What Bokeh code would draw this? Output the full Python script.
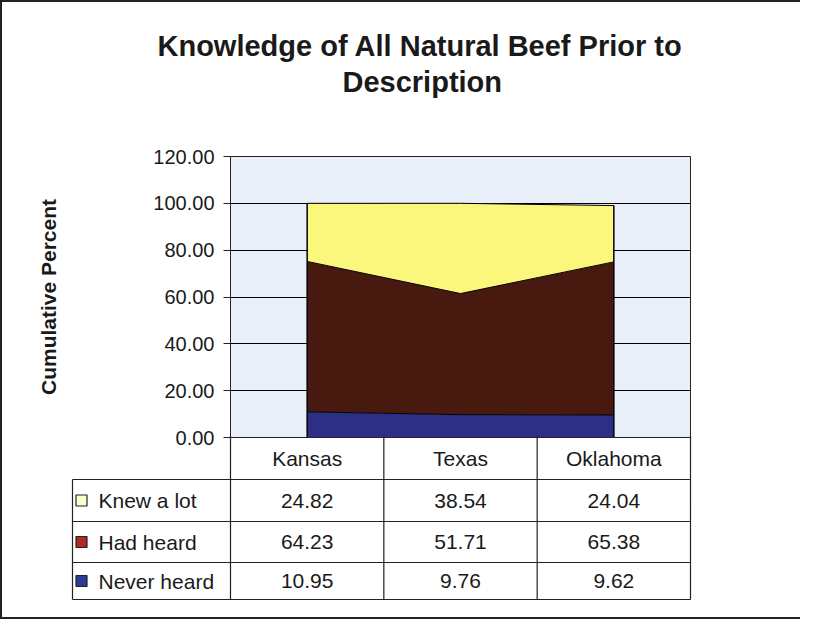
from bokeh.plotting import figure
from bokeh.models import ColumnDataSource, FactorRange, Range1d, NumeralTickFormatter, FixedTicker, Title
from bokeh.embed import file_html
from bokeh.resources import INLINE
from bokeh.core.properties import value

# ---------------- data ----------------
states = ["Kansas", "Texas", "Oklahoma"]
never_heard = [10.95, 9.76, 9.62]
had_heard = [64.23, 51.71, 65.38]
knew_a_lot = [24.82, 38.54, 24.04]
series_names = ["Knew  a lot", "Had heard", "Never heard"]   # table row order
y_ticks = [0, 20, 40, 60, 80, 100, 120]
title_lines = ["Knowledge of All Natural Beef Prior to", "Description"]
y_label = "Cumulative Percent"

# ---------------- style ----------------
FONT = "Liberation Sans"
TXT = "#1a1a1a"
area_colors = ["#2c2f85", "#47190f", "#fbf77c"]          # never, had, knew
swatch_colors = ["#fdfbd0", "#b02a20", "#2e3a9a"]        # knew, had, never (table order)
BORDER = "2px solid #222"

W = 800
FRAME_L, FRAME_R, FRAME_T, FRAME_B = 228, 688, 154, 435
PAD_B = 14                     # room under the frame for the "0.00" label
TABLE_H = 184

# ---------------- chart ----------------
src = ColumnDataSource(dict(state=states, never=never_heard, had=had_heard, knew=knew_a_lot))

p = figure(width=W, height=FRAME_B + PAD_B, x_range=FactorRange(factors=states),
           y_range=Range1d(0, 120),
           x_axis_location=None, output_backend="svg", toolbar_location=None,
           min_border_left=FRAME_L, min_border_right=W - FRAME_R,
           min_border_top=FRAME_T, min_border_bottom=PAD_B,
           styles={"border-left": BORDER, "border-top": BORDER})
p.background_fill_color = "#e8eff8"
p.border_fill_color = "white"
p.outline_line_color = "#222222"
p.outline_line_width = 1

p.varea_stack(["never", "had", "knew"], x="state", source=src, color=area_colors)
p.vline_stack(["never", "had", "knew"], x="state", source=src, color="black", line_width=1)
totals = [a + b + c for a, b, c in zip(never_heard, had_heard, knew_a_lot)]
p.segment(x0=[states[0], states[-1]], y0=[0, 0], x1=[states[0], states[-1]],
          y1=[totals[0], totals[-1]], line_color="black", line_width=1.5)

p.xgrid.visible = False
p.ygrid.ticker = FixedTicker(ticks=y_ticks)
p.ygrid.grid_line_color = "black"
p.ygrid.grid_line_width = 1
p.ygrid.level = "underlay"

ax = p.yaxis[0]
ax.ticker = FixedTicker(ticks=y_ticks)
ax.formatter = NumeralTickFormatter(format="0.00")
ax.major_label_text_font = FONT
ax.major_label_text_font_size = "20px"
ax.major_label_text_color = TXT
ax.major_tick_out = 7
ax.major_tick_in = 0
ax.major_tick_line_color = "#222222"
ax.minor_tick_line_color = None
ax.axis_line_color = "#222222"
ax.major_label_standoff = 9
ax.axis_label = y_label
ax.axis_label_text_font = FONT
ax.axis_label_text_font_style = "bold"
ax.axis_label_text_font_size = "21px"
ax.axis_label_text_color = TXT
ax.axis_label_standoff = 90

# spacer between the frame and the two-line title
p.add_layout(Title(text=" ", text_font_size="1px", standoff=55), "above")
# two-line title (last added sits on top)
for line, off in [(title_lines[1], 112), (title_lines[0], -73)]:
    p.add_layout(Title(text=line, align="left", offset=off, text_font=FONT,
                       text_font_style="bold", text_font_size="29px", text_color=TXT,
                       standoff=2), "above")

# ---------------- data table ----------------
unit = (FRAME_R - FRAME_L) / len(states)
t = figure(width=W, height=TABLE_H,
           x_range=Range1d(-FRAME_L / unit, len(states) + (W - FRAME_R) / unit),
           y_range=Range1d(TABLE_H, 0),
           x_axis_location=None, y_axis_location=None, output_backend="svg",
           toolbar_location=None, min_border_left=0, min_border_right=0,
           min_border_top=0, min_border_bottom=0,
           styles={"border-left": BORDER, "border-bottom": BORDER,
                   "margin-top": f"-{PAD_B}px"})
t.outline_line_color = None
t.background_fill_alpha = 0
t.border_fill_alpha = 0
t.grid.visible = False

row_lines = [44, 86, 127, 164]
x_left = (72 - 230) / unit
n = len(states)
xs = [[i, i] for i in range(n + 1)] + [[x_left, x_left]]
ys = [[0, row_lines[-1]] for _ in range(n + 1)] + [[row_lines[0], row_lines[-1]]]
xs += [[x_left, n] for _ in row_lines]
ys += [[y, y] for y in row_lines]
t.multi_line(xs=xs, ys=ys, line_color="#222222", line_width=1.2)

t.text(x=[i + 0.5 for i in range(n)], y=[row_lines[0] / 2 + 1] * n, text=states,
       text_font=value(FONT), text_font_size="21px", text_color=TXT,
       text_align="center", text_baseline="middle")

rows = [knew_a_lot, had_heard, never_heard]
centers = [(row_lines[k] + row_lines[k + 1]) / 2 for k in range(len(rows))]
vx, vy, vt = [], [], []
for r, vals in enumerate(rows):
    for i, v in enumerate(vals):
        vx.append(i + 0.5)
        vy.append(centers[r])
        vt.append(f"{v:.2f}")
t.text(x=vx, y=vy, text=vt, text_font=value(FONT), text_font_size="21px", text_color=TXT,
       text_align="center", text_baseline="middle")

t.rect(x=[(81 - 230) / unit] * len(rows), y=centers, width=11, height=11,
       width_units="screen", height_units="screen",
       fill_color=swatch_colors, line_color="#222222", line_width=1.2)
t.text(x=[(98 - 230) / unit] * len(rows), y=centers, text=series_names,
       text_font=value(FONT), text_font_size="21px", text_color=TXT,
       text_align="left", text_baseline="middle")

open("out.html", "w").write(file_html([p, t], INLINE))
